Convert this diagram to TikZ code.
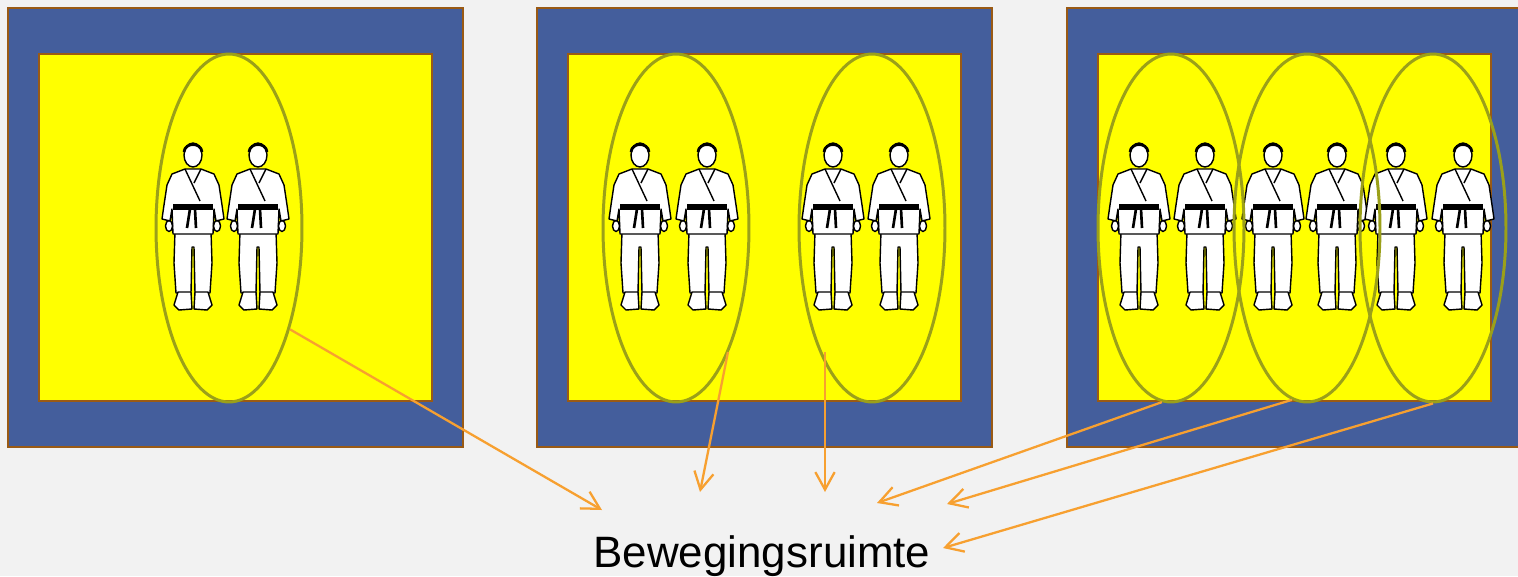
\documentclass[tikz,border=0pt]{standalone}
\usepackage{fontspec}
\newfontfamily\labelfont{Liberation Sans}
\usetikzlibrary{arrows.meta,shapes.geometric}

\definecolor{achtergrond}{RGB}{242,242,242}
\definecolor{matblauw}{RGB}{68,94,156}
\definecolor{matrand}{RGB}{154,90,20}
\definecolor{vlak}{RGB}{255,255,0}
\definecolor{olijf}{RGB}{155,160,25}
\definecolor{oranje}{RGB}{247,160,48}

\tikzset{
  gi/.style={fill=white,draw=black,line width=0.8pt,line join=round},
  ruimte/.style={ellipse,draw=olijf,line width=1.7pt,inner sep=0pt,
    minimum width=2.92cm,minimum height=6.96cm},
  pijl/.style={draw=oranje,line width=1.3pt,-{Straight Barb[length=10pt,width=11pt]}},
  judoka/.pic={
    % broek
    \filldraw[gi] (-18,88) -- (-19,120) -- (-17,150) -- (-2,150) -- (-1,104)
      -- (1,104) -- (2,150) -- (17,150) -- (19,120) -- (18,88) -- cycle;
    % voeten
    \filldraw[gi] (-15,149) -- (-19,162) -- (-14,167) -- (-1,166) -- (-2,149) -- cycle;
    \filldraw[gi] (15,149) -- (19,162) -- (14,167) -- (1,166) -- (2,149) -- cycle;
    % jas
    \filldraw[gi] (-8,26) -- (-21,31) -- (-26,42) -- (-29,62) -- (-31,76)
      -- (-23,78) -- (-21,66) -- (-20,91) -- (20,91) -- (21,66) -- (23,78)
      -- (31,76) -- (29,62) -- (26,42) -- (21,31) -- (8,26) -- cycle;
    % handen
    \filldraw[gi] (-24,83) ellipse (3.5 and 5.5);
    \filldraw[gi] (24,83) ellipse (3.5 and 5.5);
    % revers
    \draw[gi] (-8,26) -- (7,58);
    \draw[gi] (8,26) -- (1,40);
    % band
    \fill (-20,61) rectangle (20,67);
    \draw[line width=1.5pt] (-3,66) -- (-6,85) (2,66) -- (3,85);
    % hoofd
    \filldraw[gi] (0,12) ellipse (9 and 12);
    \draw[line width=1.6pt] (-9,9) .. controls (-8,-1) and (8,-1) .. (9,9);
  }
}

\begin{document}
\begin{tikzpicture}[x=0.02cm,y=-0.02cm]
  % achtergrond
  \fill[achtergrond] (0,0) rectangle (1518,576);
  \clip (0,0) rectangle (1518,576);

  % de drie matten
  \foreach \m in {8,537,1067}
  {
    \filldraw[fill=matblauw,draw=matrand,line width=1.5pt] (\m,8) rectangle ++(455,439);
    \filldraw[fill=vlak,draw=matrand,line width=1.5pt] (\m+31,54) rectangle ++(393,347);
  }

  % judoka's
  \foreach \x in {193,258,640,707,833,899,1139,1205,1273,1337,1396,1463}
    \pic at (\x,143) {judoka};

  % bewegingsruimtes
  \node[ruimte] (r1) at (229,228) {};
  \node[ruimte] (r2a) at (676,228) {};
  \node[ruimte] (r2b) at (872,228) {};
  \node[ruimte] (r3a) at (1171,228) {};
  \node[ruimte] (r3b) at (1307,228) {};
  \node[ruimte] (r3c) at (1433,228) {};

  % tekst
  \node[font=\labelfont\fontsize{25}{30}\selectfont,anchor=base,inner sep=0pt]
    (tekst) at (762,567) {Bewegingsruimte};

  % pijlen
  \coordinate (s2) at (728,352);
  \coordinate (s3) at (825,352);
  \coordinate (p1) at (602,510);
  \coordinate (p2) at (700,492);
  \coordinate (p3) at (825,492);
  \coordinate (p4) at (877,503);
  \coordinate (p5) at (947,504);
  \coordinate (p6) at (943,548);
  \draw[pijl] (r1.-59) -- (p1);
  \draw[pijl] (s2) -- (p2);
  \draw[pijl] (s3) -- (p3);
  \draw[pijl] (r3a.-93) -- (p4);
  \draw[pijl] (r3b.-95) -- (p5);
  \draw[pijl] (r3c.south) -- (p6);
\end{tikzpicture}
\end{document}
